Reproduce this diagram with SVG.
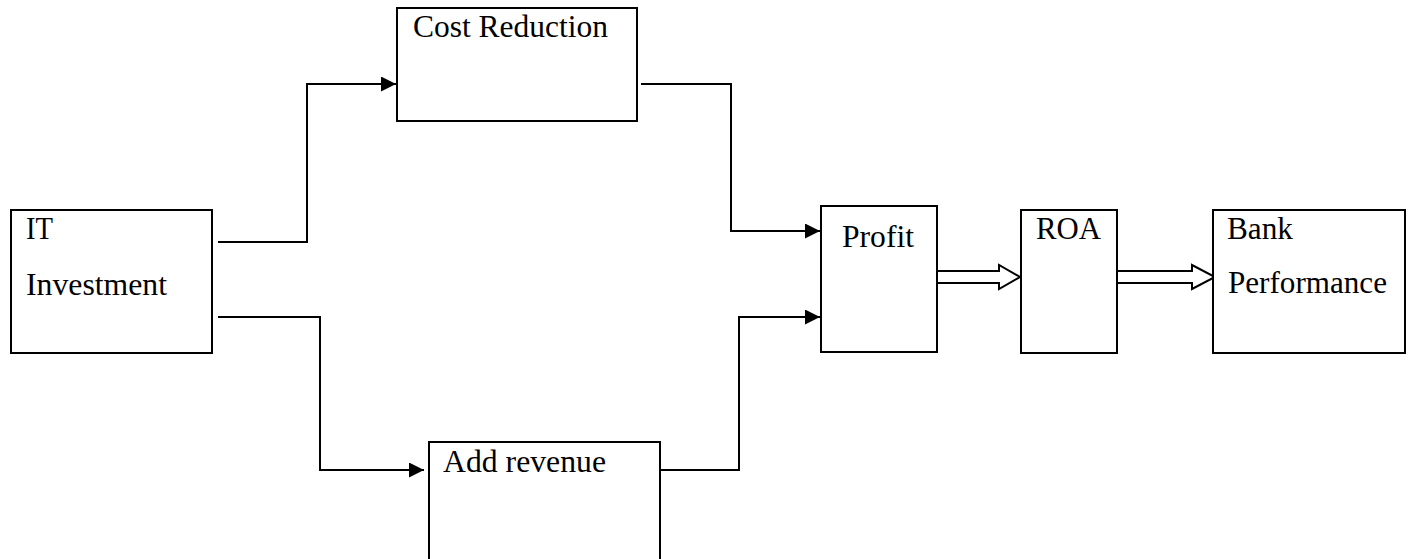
<svg xmlns="http://www.w3.org/2000/svg" width="1413" height="559" viewBox="0 0 1413 559">
<defs>
<style>
.box{fill:#fff;stroke:#000;stroke-width:2}
.t{font-family:"Liberation Serif","Times New Roman",serif;font-size:31px;fill:#000}
.c{fill:none;stroke:#000;stroke-width:2;marker-end:url(#ah)}
.h{fill:#fff;stroke:#000;stroke-width:2;stroke-linejoin:miter}
</style>
<marker id="ah" markerUnits="userSpaceOnUse" markerWidth="15" markerHeight="15" refX="15" refY="7.5" orient="auto">
<path d="M0,0 L15,7.5 L0,15 z" fill="#000"/>
</marker>
</defs>
<rect width="1413" height="559" fill="#fff"/>
<g id="connectors">
<path class="c" d="M218,242 H307 V84 H396"/>
<path class="c" d="M641,84 H731 V231 H820"/>
<path class="c" d="M218,317 H320 V470 H424"/>
<path class="c" d="M657,470 H739 V317 H820"/>
<polygon class="h" points="937,271 999,271 999,265 1020,277 999,289 999,283 937,283"/>
<polygon class="h" points="1117,271 1192,271 1192,265 1215,277 1192,289 1192,283 1117,283"/>
</g>
<g id="it">
<rect class="box" x="11" y="210" width="201" height="143"/>
<text class="t" x="26" y="239" textLength="27" lengthAdjust="spacingAndGlyphs">IT</text>
<text class="t" x="26" y="295" textLength="141" lengthAdjust="spacingAndGlyphs">Investment</text>
</g>
<g id="cost">
<rect class="box" x="397" y="8" width="240" height="113"/>
<text class="t" x="413" y="37" textLength="195" lengthAdjust="spacingAndGlyphs">Cost Reduction</text>
</g>
<g id="revenue">
<rect class="box" x="429" y="442" width="231" height="130"/>
<text class="t" x="443" y="472" textLength="163" lengthAdjust="spacingAndGlyphs">Add revenue</text>
</g>
<g id="profit">
<rect class="box" x="821" y="206" width="116" height="146"/>
<text class="t" x="842" y="247" textLength="72" lengthAdjust="spacingAndGlyphs">Profit</text>
</g>
<g id="roa">
<rect class="box" x="1021" y="210" width="96" height="143"/>
<text class="t" x="1036" y="239" textLength="65" lengthAdjust="spacingAndGlyphs">ROA</text>
</g>
<g id="bank">
<rect class="box" x="1213" y="210" width="192" height="143"/>
<text class="t" x="1227" y="239" textLength="66" lengthAdjust="spacingAndGlyphs">Bank</text>
<text class="t" x="1228" y="293" textLength="159" lengthAdjust="spacingAndGlyphs">Performance</text>
</g>
</svg>
